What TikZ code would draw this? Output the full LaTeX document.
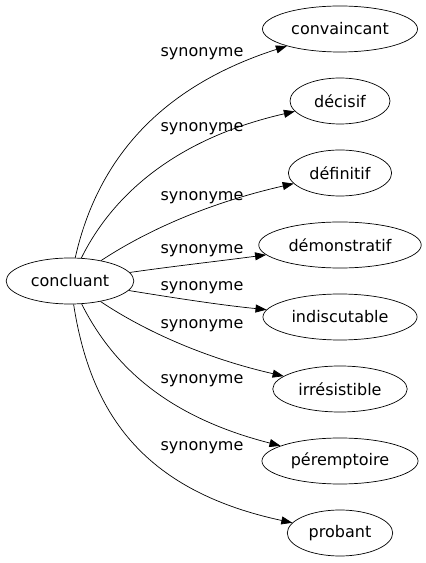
\documentclass[tikz,border=0pt]{standalone}
\usepackage{fontspec}
\setmainfont{DejaVu Sans}
\usetikzlibrary{shapes,arrows.meta,positioning}

\begin{document}
\begin{tikzpicture}[
    x=1pt, y=1pt,
    word/.style={ellipse, draw, fill=white, line width=0.7pt, inner xsep=6pt, minimum height=46pt, font=\fontsize{16}{19}\selectfont},
    syn/.style={font=\fontsize{16}{19}\selectfont, inner sep=0pt},
    edge/.style={line width=0.7pt, -{Triangle[length=11pt, width=8pt]}}
]
    \useasboundingbox (0,0) rectangle (426,563);

    \node[word] (concluant) at (70,282) {concluant};

    \node[word] (convaincant) at (340,534) {convaincant};
    \node[word, minimum width=100pt] (decisif) at (340,462) {décisif};
    \node[word] (definitif) at (340,390) {définitif};
    \node[word] (demonstratif) at (340,318) {démonstratif};
    \node[word] (indiscutable) at (340,246) {indiscutable};
    \node[word] (irresistible) at (340,174) {irrésistible};
    \node[word] (peremptoire) at (340,102) {péremptoire};
    \node[word] (probant) at (340,30) {probant};

    \node[syn] (s1) at (202,509) {synonyme};
    \node[syn] (s2) at (202,434) {synonyme};
    \node[syn] (s3) at (202,365) {synonyme};
    \node[syn] (s4) at (202,312) {synonyme};
    \node[syn] (s5) at (202,275) {synonyme};
    \node[syn] (s6) at (202,237) {synonyme};
    \node[syn] (s7) at (202,182) {synonyme};
    \node[syn] (s8) at (202,115) {synonyme};

    \draw[edge] (concluant) .. controls (95,393) and (150,473) .. (convaincant);
    \draw[edge] (concluant) .. controls (110,363) and (170,423) .. (decisif);
    \draw[edge] (concluant) .. controls (140,328) and (200,358) .. (definitif);
    \draw[edge] (concluant) .. controls (175,297) and (220,302) .. (demonstratif);
    \draw[edge] (concluant) .. controls (175,265) and (220,258) .. (indiscutable);
    \draw[edge] (concluant) .. controls (140,235) and (200,206) .. (irresistible);
    \draw[edge] (concluant) .. controls (110,203) and (160,148) .. (peremptoire);
    \draw[edge] (concluant) .. controls (90,153) and (140,73) .. (probant);
\end{tikzpicture}
\end{document}
